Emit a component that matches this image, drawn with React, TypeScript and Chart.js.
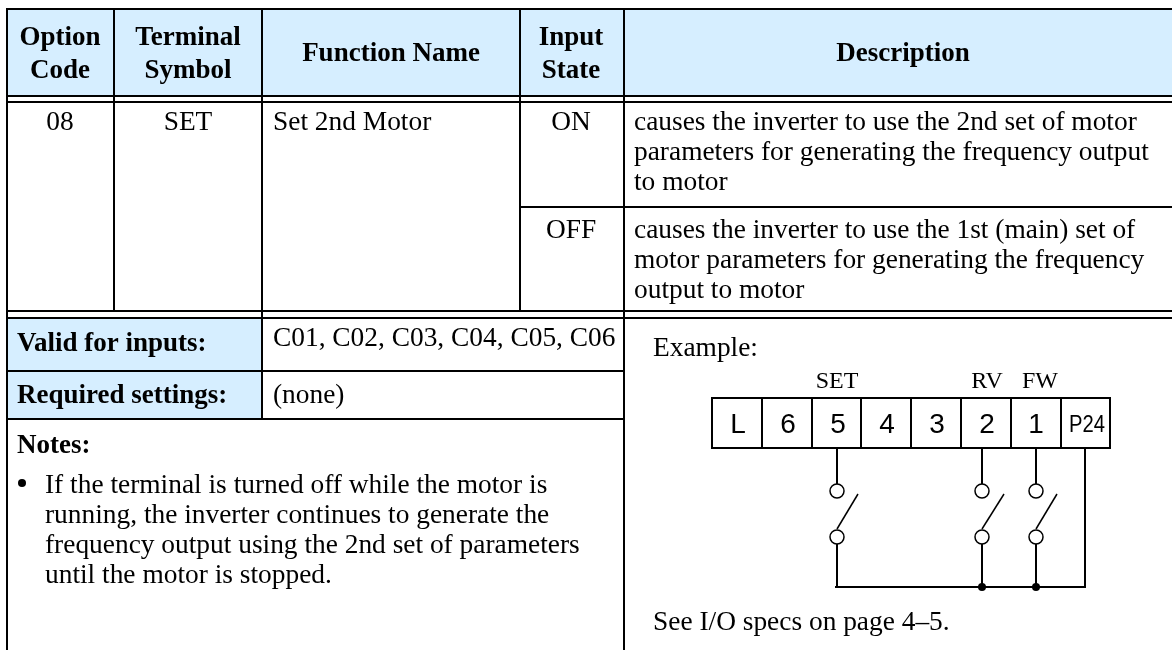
import { useEffect, useRef } from "react";
import { Chart, registerables } from "chart.js";
Chart.register(...registerables);

const BLACK = "#000000";
const BLUE = "#d6eeff";
const SERIF = '"Liberation Serif"';
const SANS = '"Liberation Sans"';

// [x0, x1, yTop, yBottom]
const fills = [
  [7, 1172, 9, 96],
  [7, 262, 318, 371],
  [7, 262, 371, 419],
];
// [x0, y0, x1, y1, width]
const rules = [
  [6, 9, 1172, 9, 2], [6, 96, 1172, 96, 2], [6, 102, 1172, 102, 2],
  [6, 311, 1172, 311, 2], [6, 318, 1172, 318, 2], [6, 371, 624, 371, 2], [6, 419, 624, 419, 2],
  [520, 207, 1172, 207, 2],
  [7, 8, 7, 650, 2], [114, 9, 114, 311, 2], [262, 9, 262, 419, 2], [520, 9, 520, 311, 2], [624, 9, 624, 650, 2],
  [711, 398, 1111, 398, 2], [711, 448, 1111, 448, 2],
  [712, 398, 712, 448, 2], [762, 398, 762, 448, 2], [812, 398, 812, 448, 2], [861, 398, 861, 448, 2],
  [911, 398, 911, 448, 2], [961, 398, 961, 448, 2], [1011, 398, 1011, 448, 2], [1061, 398, 1061, 448, 2], [1110, 398, 1110, 448, 2],
  [837, 448, 837, 491, 2], [982, 448, 982, 491, 2], [1036, 448, 1036, 491, 2],
  [837, 537, 837, 587, 2], [982, 537, 982, 587, 2], [1036, 537, 1036, 587, 2],
  [835, 587, 1086, 587, 2], [1085, 448, 1085, 587, 2],
  [837, 529, 858, 494, 1.5], [982, 529, 1004, 494, 1.5], [1036, 529, 1057, 494, 1.5],
];
const openContacts = [[837, 491], [837, 537], [982, 491], [982, 537], [1036, 491], [1036, 537]];
const junctions = [[982, 587], [1036, 587]];
const bulletDot = [[22, 483]];

const bold = `bold 27px ${SERIF}`;
const body = `27.4px ${SERIF}`;
const small = `24px ${SERIF}`;
const pin = `28px ${SANS}`;
// [text, x, baseline, align, font, maxWidth]
const labels: [string, number, number, CanvasTextAlign, string, number?][] = [
  ["Option", 60, 45, "center", bold], ["Code", 60, 78, "center", bold],
  ["Terminal", 188, 45, "center", bold], ["Symbol", 188, 78, "center", bold],
  ["Function Name", 391, 61, "center", bold],
  ["Input", 571, 45, "center", bold], ["State", 571, 78, "center", bold],
  ["Description", 903, 61, "center", bold],
  ["08", 60, 130, "center", body], ["SET", 188, 130, "center", body],
  ["Set 2nd Motor", 273, 130, "left", body], ["ON", 571, 130, "center", body],
  ["causes the inverter to use the 2nd set of motor", 634, 130, "left", body],
  ["parameters for generating the frequency output", 634, 160, "left", body],
  ["to motor", 634, 190, "left", body],
  ["OFF", 571, 238, "center", body],
  ["causes the inverter to use the 1st (main) set of", 634, 238, "left", body],
  ["motor parameters for generating the frequency", 634, 268, "left", body],
  ["output to motor", 634, 298, "left", body],
  ["Valid for inputs:", 17, 351, "left", bold],
  ["C01, C02, C03, C04, C05, C06", 273, 346, "left", body],
  ["Required settings:", 17, 403, "left", bold],
  ["(none)", 273, 403, "left", body],
  ["Notes:", 17, 453, "left", bold],
  ["If the terminal is turned off while the motor is", 45, 493, "left", body],
  ["running, the inverter continues to generate the", 45, 523, "left", body],
  ["frequency output using the 2nd set of parameters", 45, 553, "left", body],
  ["until the motor is stopped.", 45, 583, "left", body],
  ["Example:", 653, 356, "left", body],
  ["SET", 837, 388, "center", small], ["RV", 987, 388, "center", small], ["FW", 1040, 388, "center", small],
  ["L", 738, 433, "center", pin], ["6", 788, 433, "center", pin], ["5", 838, 433, "center", pin],
  ["4", 887, 433, "center", pin], ["3", 937, 433, "center", pin], ["2", 987, 433, "center", pin],
  ["1", 1036, 433, "center", pin], ["P24", 1087, 432, "center", `24px ${SANS}`, 36],
  ["See I/O specs on page 4–5.", 653, 630, "left", body],
];

const textPlugin = {
  id: "tableText",
  afterDatasetsDraw(chart: any) {
    const { ctx, scales } = chart;
    ctx.save();
    ctx.fillStyle = BLACK;
    ctx.textBaseline = "alphabetic";
    for (const [t, x, y, a, f, w] of labels) {
      ctx.font = f;
      ctx.textAlign = a;
      const px = scales.x.getPixelForValue(x);
      const py = scales.y.getPixelForValue(y);
      if (w) ctx.fillText(t, px, py, w);
      else ctx.fillText(t, px, py);
    }
    ctx.restore();
  },
};

export default function App() {
  const ref = useRef<HTMLCanvasElement>(null);
  useEffect(() => {
    document.body.style.margin = "0";
    const datasets: any[] = [
      ...fills.map(([x0, x1, t, b]) => ({
        type: "line", order: 4, data: [{ x: x0, y: t }, { x: x1, y: t }], pointRadius: 0, borderWidth: 0,
        backgroundColor: BLUE, fill: { target: { value: b } },
      })),
      ...rules.map(([x0, y0, x1, y1, w]) => ({
        type: "line", order: 3, data: [{ x: x0, y: y0 }, { x: x1, y: y1 }], pointRadius: 0,
        borderColor: BLACK, borderWidth: w, borderCapStyle: "butt", fill: false,
      })),
      {
        type: "scatter", order: 2, data: openContacts.map(([x, y]) => ({ x, y })), pointRadius: 7,
        pointBackgroundColor: "#ffffff", pointBorderColor: BLACK, pointBorderWidth: 1.5,
      },
      {
        type: "scatter", order: 1, data: junctions.map(([x, y]) => ({ x, y })), pointRadius: 4,
        pointBackgroundColor: BLACK, pointBorderColor: BLACK, pointBorderWidth: 0,
      },
      {
        type: "scatter", order: 1, data: bulletDot.map(([x, y]) => ({ x, y })), pointRadius: 4,
        pointBackgroundColor: BLACK, pointBorderColor: BLACK, pointBorderWidth: 0,
      },
    ];
    const chart = new Chart(ref.current!, {
      type: "scatter",
      data: { datasets },
      options: {
        responsive: false,
        animation: false,
        layout: { padding: 0, autoPadding: false },
        plugins: { legend: { display: false }, tooltip: { enabled: false } },
        scales: {
          x: { type: "linear", min: 0, max: 1172, display: false },
          y: { type: "linear", min: 0, max: 650, reverse: true, display: false },
        },
      },
      plugins: [textPlugin],
    } as any);
    return () => chart.destroy();
  }, []);
  return <canvas ref={ref} width={1172} height={650} style={{ display: "block", background: "#fff" }} />;
}
